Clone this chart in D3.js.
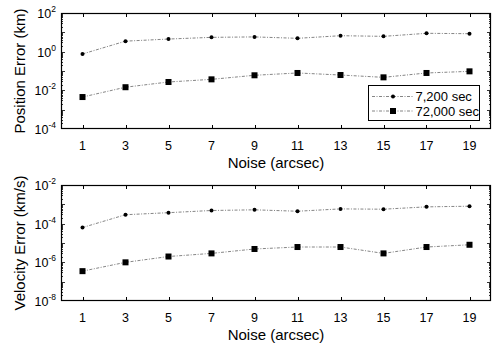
<!DOCTYPE html>
<html><head><meta charset="utf-8">
<script src="https://cdn.jsdelivr.net/npm/d3@7"></script>
<style>body{margin:0;background:#fff}svg{display:block}text{font-family:"Liberation Sans",Arial,sans-serif;fill:#000}</style>
</head><body><svg id="c" width="502" height="355"></svg>
<script>
const noise = [1,3,5,7,9,11,13,15,17,19];
const seriesNames = ["7,200 sec","72,000 sec"];
const pos7200  = [0.76,3.5,4.5,5.5,5.8,4.9,6.7,6.2,8.9,8.5];
const pos72000 = [0.0045,0.0145,0.027,0.037,0.060,0.079,0.062,0.047,0.079,0.096];
const vel7200  = [6.3e-5,2.9e-4,3.7e-4,4.8e-4,5.2e-4,4.4e-4,5.8e-4,5.6e-4,7.4e-4,8.0e-4];
const vel72000 = [3.5e-7,1.0e-6,2.0e-6,2.9e-6,4.9e-6,6.2e-6,6.2e-6,2.9e-6,6.2e-6,8.1e-6];
const posTickExps = [2,0,-2,-4];
const velTickExps = [-2,-4,-6,-8];
const xTitle = "Noise (arcsec)";
const posTitle = "Position Error (km)";
const velTitle = "Velocity Error (km/s)";

const svg = d3.select("#c");
const L = 61, R = 491;
const x = d3.scaleLinear().domain([0,20]).range([L,R]);

function panel(top, bottom, yDomain, tickExps, s1, s2, title, legend){
  const g = svg.append("g");
  const y = d3.scaleLog().domain(yDomain).range([bottom, top]);
  const lo = Math.round(Math.log10(yDomain[0])), hi = Math.round(Math.log10(yDomain[1]));
  for(let e=lo; e<hi; e++){
    for(let m=1;m<=9;m++){
      const v = m*Math.pow(10,e);
      if(e===lo && m===1) continue;
      const yy = Math.round(y(v))+0.5;
      const len = m===1 ? 4 : 2;
      g.append("line").attr("x1",L).attr("x2",L+len).attr("y1",yy).attr("y2",yy).attr("stroke","#000").attr("stroke-width",0.8);
      g.append("line").attr("x1",R).attr("x2",R-len).attr("y1",yy).attr("y2",yy).attr("stroke","#000").attr("stroke-width",0.8);
    }
  }
  noise.forEach(n=>{
    const xx = Math.round(x(n))+0.5;
    g.append("line").attr("x1",xx).attr("x2",xx).attr("y1",bottom).attr("y2",bottom-4).attr("stroke","#000");
    g.append("line").attr("x1",xx).attr("x2",xx).attr("y1",top).attr("y2",top+4).attr("stroke","#000");
    g.append("text").attr("x",x(n)).attr("y",bottom+21).attr("text-anchor","middle").attr("font-size",12.5).text(n);
  });
  tickExps.forEach(e=>{
    const t = g.append("text").attr("x",56).attr("y",y(Math.pow(10,e))+5).attr("text-anchor","end").attr("font-size",12.5);
    t.append("tspan").text("10");
    t.append("tspan").attr("dy",-6).attr("font-size",8.5).text(e);
  });
  const line = d3.line().x((d,i)=>x(noise[i])).y(d=>y(d));
  [s1,s2].forEach(s=>{
    g.append("path").datum(s).attr("d",line).attr("fill","none").attr("stroke","#666").attr("stroke-width",0.8).attr("stroke-dasharray","3,1.5,1,1.5");
  });
  g.selectAll(".dot").data(s1).enter().append("circle").attr("cx",(d,i)=>x(noise[i])).attr("cy",d=>y(d)).attr("r",2).attr("fill","#000");
  g.selectAll(".sq").data(s2).enter().append("rect").attr("x",(d,i)=>x(noise[i])-3).attr("y",d=>y(d)-3).attr("width",6).attr("height",6).attr("fill","#000");
  g.append("rect").attr("x",L+0.5).attr("y",top+0.5).attr("width",R-L-1).attr("height",bottom-top-1).attr("fill","none").attr("stroke","#000").attr("stroke-width",1.2);
  g.append("text").attr("x",(L+R)/2).attr("y",bottom+39).attr("text-anchor","middle").attr("font-size",15).text(xTitle);
  g.append("text").attr("transform",`translate(25,${(top+bottom)/2}) rotate(-90)`).attr("text-anchor","middle").attr("font-size",15).text(title);
  if(legend){
    const lg = g.append("g");
    lg.append("rect").attr("x",368.5).attr("y",85.5).attr("width",111).attr("height",35).attr("fill","#fff").attr("stroke","#000").attr("stroke-width",1);
    const rows=[96.5,111];
    rows.forEach((ry,i)=>{
      lg.append("line").attr("x1",372).attr("x2",413).attr("y1",ry).attr("y2",ry).attr("stroke","#666").attr("stroke-width",0.8).attr("stroke-dasharray","3,1.5,1,1.5");
      if(i===0) lg.append("circle").attr("cx",393).attr("cy",ry).attr("r",2).attr("fill","#000");
      else lg.append("rect").attr("x",390).attr("y",ry-3).attr("width",6).attr("height",6).attr("fill","#000");
      lg.append("text").attr("x",415.5).attr("y",ry+4.5).attr("font-size",13).text(seriesNames[i]);
    });
  }
}
panel(13,129,[1e-4,1e2],posTickExps,pos7200,pos72000,posTitle,true);
panel(185,301,[1e-8,1e-2],velTickExps,vel7200,vel72000,velTitle,false);
</script></body></html>
